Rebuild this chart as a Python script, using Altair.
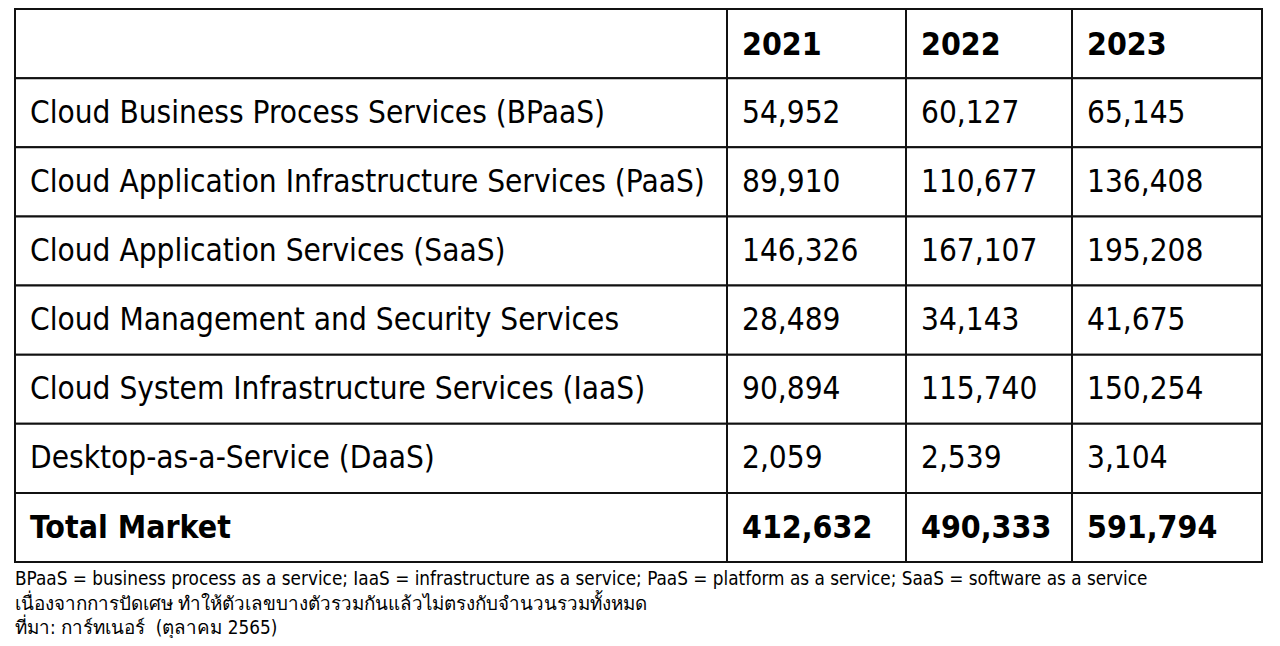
import altair as alt
import pandas as pd

# ---------------- data ----------------
row_labels = [
    "Cloud Business Process Services (BPaaS)",
    "Cloud Application Infrastructure Services (PaaS)",
    "Cloud Application Services (SaaS)",
    "Cloud Management and Security Services",
    "Cloud System Infrastructure Services (IaaS)",
    "Desktop-as-a-Service (DaaS)",
]
years = ["2021", "2022", "2023"]
values_2021 = [54952, 89910, 146326, 28489, 90894, 2059]
values_2022 = [60127, 110677, 167107, 34143, 115740, 2539]
values_2023 = [65145, 136408, 195208, 41675, 150254, 3104]
total_label = "Total Market"
totals = [412632, 490333, 591794]
footnotes = [
    "BPaaS = business process as a service; IaaS = infrastructure as a service; PaaS = platform as a service; SaaS = software as a service",
    "เนื่องจากการปัดเศษ ทำให้ตัวเลขบางตัวรวมกันแล้วไม่ตรงกับจำนวนรวมทั้งหมด",
    "ที่มา: การ์ทเนอร์\u00a0 (ตุลาคม 2565)",
]

# ---------------- layout (page pixels) ----------------
PAGE_W, PAGE_H, MARGIN = 1280, 646, 8
col_edges = [15, 727, 906, 1072, 1262]
table_top, table_bottom = 9, 562
text_pad = 15
foot_top, foot_step = 579, 24.5
FONT = "DejaVu Sans Condensed"

rows = [[""] + years]
for lab, a, b, c in zip(row_labels, values_2021, values_2022, values_2023):
    rows.append([lab, f"{a:,}", f"{b:,}", f"{c:,}"])
rows.append([total_label] + [f"{t:,}" for t in totals])
bold = [True] + [False] * len(row_labels) + [True]

n = len(rows)
rh = (table_bottom - table_top) / n
recs = []
for i, row in enumerate(rows):
    for j, txt in enumerate(row):
        recs.append(dict(
            x=col_edges[j], x2=col_edges[j + 1],
            y=table_top + i * rh, y2=table_top + (i + 1) * rh,
            tx=col_edges[j] + text_pad, ty=table_top + (i + 0.5) * rh + 1,
            text=txt, bold=bold[i],
        ))
df = pd.DataFrame(recs)

foot_df = pd.DataFrame({
    "text": footnotes,
    "tx": [col_edges[0]] * len(footnotes),
    "ty": [foot_top + k * foot_step for k in range(len(footnotes))],
})

xs = alt.Scale(domain=[MARGIN, PAGE_W - MARGIN], nice=False, zero=False)
ys = alt.Scale(domain=[MARGIN, PAGE_H - MARGIN], nice=False, zero=False, reverse=True)

base = alt.Chart(df)

cells = base.mark_rect(fill="white", stroke="#111111", strokeWidth=2).encode(
    x=alt.X("x:Q", scale=xs, axis=None),
    x2="x2:Q",
    y=alt.Y("y:Q", scale=ys, axis=None),
    y2="y2:Q",
)

normal_text = base.transform_filter("!datum.bold").mark_text(
    align="left", baseline="middle", font=FONT, fontSize=31.3, color="#000000"
).encode(
    x=alt.X("tx:Q", scale=xs, axis=None),
    y=alt.Y("ty:Q", scale=ys, axis=None),
    text="text:N",
)

bold_text = base.transform_filter("datum.bold").mark_text(
    align="left", baseline="middle", font=FONT, fontSize=31.8, fontWeight="bold", color="#000000"
).encode(
    x=alt.X("tx:Q", scale=xs, axis=None),
    y=alt.Y("ty:Q", scale=ys, axis=None),
    text="text:N",
)

foot_text = alt.Chart(foot_df).mark_text(
    align="left", baseline="middle", font=FONT, fontSize=18.8, color="#000000"
).encode(
    x=alt.X("tx:Q", scale=xs, axis=None),
    y=alt.Y("ty:Q", scale=ys, axis=None),
    text="text:N",
)

chart = alt.layer(cells, normal_text, bold_text, foot_text).properties(
    width=PAGE_W - 2 * MARGIN,
    height=PAGE_H - 2 * MARGIN,
    padding=0,
    autosize=alt.AutoSizeParams(type="none"),
    background="white",
).configure_view(stroke=None)

chart.save("out.html", embed_options={"renderer": "svg", "actions": False})
